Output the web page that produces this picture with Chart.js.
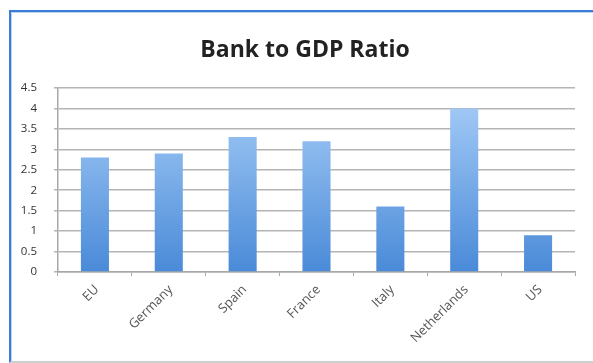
<!DOCTYPE html>
<html>
<head>
<meta charset="utf-8">
<script src="https://cdn.jsdelivr.net/npm/chart.js@4.4.0/dist/chart.umd.min.js"></script>
<style>
  html, body { margin: 0; padding: 0; background: #fff; }
  #wrap { position: relative; width: 593px; height: 363px; overflow: hidden; }
  #frame { position: absolute; left: 9px; top: 10px; width: 600px; height: 349px;
           border-top: 2px solid #3a7bd5; border-left: 2px solid #3a7bd5;
           border-bottom: 2px solid #cfcfcf; pointer-events: none; }
  #frame::after { content: ""; position: absolute; left: 0; top: 0; right: 0; bottom: 0;
           border-top: 1px solid #b9d3f1; border-left: 1px solid #b9d3f1; }
  canvas { position: absolute; left: 0; top: 0; }
</style>
</head>
<body>
<div id="wrap">
  <canvas id="c" width="593" height="363"></canvas>
  <div id="frame"></div>
</div>
<script>
const chartTitle = "Bank to GDP Ratio";
const categories = ["EU", "Germany", "Spain", "France", "Italy", "Netherlands", "US"];
const ratios = [2.8, 2.9, 3.3, 3.2, 1.6, 4.0, 0.9];
const yTicks = [0, 0.5, 1, 1.5, 2, 2.5, 3, 3.5, 4, 4.5];

function barGradient(ctx) {
  const chart = ctx.chart;
  const area = chart.chartArea;
  if (!area) return '#7aaee8';
  const el = ctx.element;
  const top = el && el.y !== undefined ? el.y : area.top;
  const bottom = area.bottom;
  const g = chart.ctx.createLinearGradient(0, top, 0, bottom);
  g.addColorStop(0, '#a9cff8');
  g.addColorStop(1, '#4a8ad8');
  return g;
}

const titlePlugin = {
  id: 'customTitle',
  afterDraw(chart) {
    const c = chart.ctx;
    c.save();
    c.font = 'bold 23px "Open Sans", sans-serif';
    c.fillStyle = '#222';
    c.textAlign = 'center';
    c.textBaseline = 'middle';
    c.fillText(chartTitle, 305, 50);
    c.restore();
  }
};

new Chart(document.getElementById('c'), {
  type: 'bar',
  data: {
    labels: categories,
    datasets: [{
      data: ratios,
      backgroundColor: barGradient,
      borderWidth: 0,
      barPercentage: 0.5,
      categoryPercentage: 0.76
    }]
  },
  options: {
    responsive: false,
    animation: false,
    events: [],
    layout: { padding: { top: 88, right: 18, bottom: 11, left: 8 } },
    plugins: { legend: { display: false }, title: { display: false }, tooltip: { enabled: false } },
    scales: {
      x: {
        afterFit(scale) { scale.height = 80; },
        grid: { drawOnChartArea: false, color: '#a8a8a8', lineWidth: 1, tickLength: 4, offset: true },
        border: { color: '#a8a8a8', width: 1.5 },
        ticks: {
          minRotation: 45, maxRotation: 45, padding: 6, labelOffset: 2,
          color: '#555', font: { family: '"Open Sans", sans-serif', size: 13 }
        }
      },
      y: {
        min: 0, max: 4.5,
        afterFit(scale) { scale.width = 50; },
        afterBuildTicks(scale) { scale.ticks = yTicks.map(v => ({ value: v })); },
        grid: { color: '#b4b4b4', lineWidth: 1.5, tickLength: 4 },
        border: { color: '#a8a8a8', width: 1.5 },
        ticks: {
          padding: 17, color: '#333',
          font: { family: '"Open Sans", sans-serif', size: 11.5 },
          callback: v => String(v)
        }
      }
    }
  },
  plugins: [titlePlugin]
});
</script>
</body>
</html>
